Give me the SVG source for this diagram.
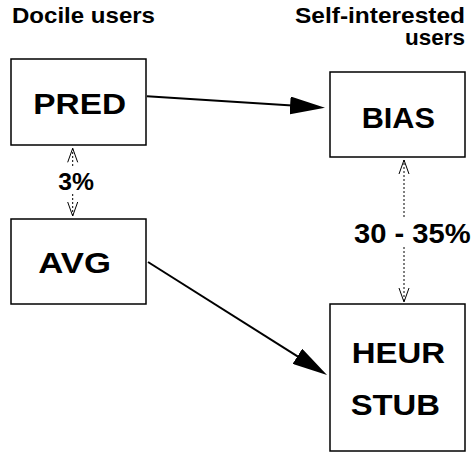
<svg xmlns="http://www.w3.org/2000/svg" width="472" height="452" viewBox="0 0 472 452">
<style>
.box{fill:#fff;stroke:#000;stroke-width:1.5}
.t{font-family:"Liberation Sans",Arial,sans-serif;font-weight:bold;fill:#000}
.big{font-size:30px}
.hdr{font-size:22px}
.solid{stroke:#000;stroke-width:2;fill:none}
.dot{stroke:#000;stroke-width:1;stroke-dasharray:2 2;fill:none}
</style>
<defs>
<marker id="fill" markerUnits="userSpaceOnUse" viewBox="0 0 35 18" markerWidth="35" markerHeight="18" refX="10" refY="9" orient="auto">
<path d="M0,0 L35,9 L0,18 z" fill="#000"/>
</marker>
<marker id="open" markerUnits="userSpaceOnUse" viewBox="-1 -1 16 12" markerWidth="16" markerHeight="12" refX="14" refY="5" orient="auto">
<path d="M0,0 L14,5 L0,10" fill="none" stroke="#000" stroke-width="1"/>
</marker>
</defs>
<g id="labels">
<text class="t hdr" x="12" y="22.5" textLength="143" lengthAdjust="spacingAndGlyphs">Docile users</text>
<text class="t hdr" x="295" y="22.5" textLength="170" lengthAdjust="spacingAndGlyphs">Self-interested</text>
<text class="t hdr" x="405" y="45" textLength="60" lengthAdjust="spacingAndGlyphs">users</text>
</g>
<g id="connectors">
<line class="solid" x1="147" y1="96.3" x2="300.05" y2="106.1" marker-end="url(#fill)"/>
<line class="solid" x1="148" y1="262" x2="305.86" y2="361.65" marker-end="url(#fill)"/>
<line class="dot" x1="72.7" y1="166" x2="72.7" y2="148.3" marker-end="url(#open)"/>
<line class="dot" x1="72.7" y1="194" x2="72.7" y2="216" marker-end="url(#open)"/>
<line class="dot" x1="404" y1="217" x2="404" y2="160" marker-end="url(#open)"/>
<line class="dot" x1="404" y1="247" x2="404" y2="302" marker-end="url(#open)"/>
<text class="t" font-size="24" x="58.3" y="190" textLength="35.7" lengthAdjust="spacingAndGlyphs">3%</text>
<text class="t" font-size="27" x="354" y="242.7" textLength="116.7" lengthAdjust="spacingAndGlyphs">30 - 35%</text>
</g>
<g id="pred">
<rect class="box" x="11" y="59" width="135" height="86"/>
<text class="t big" x="33.3" y="114.3" textLength="92.7" lengthAdjust="spacingAndGlyphs">PRED</text>
</g>
<g id="bias">
<rect class="box" x="330" y="72" width="135" height="85"/>
<text class="t big" x="361.7" y="128.3" textLength="73.3" lengthAdjust="spacingAndGlyphs">BIAS</text>
</g>
<g id="avg">
<rect class="box" x="11" y="219" width="135" height="85"/>
<text class="t big" x="38.3" y="273.3" textLength="72.7" lengthAdjust="spacingAndGlyphs">AVG</text>
</g>
<g id="heurstub">
<rect class="box" x="330" y="304" width="135" height="147"/>
<text class="t big" x="351.7" y="363.3" textLength="93.3" lengthAdjust="spacingAndGlyphs">HEUR</text>
<text class="t big" x="350.7" y="415" textLength="89.3" lengthAdjust="spacingAndGlyphs">STUB</text>
</g>
</svg>
